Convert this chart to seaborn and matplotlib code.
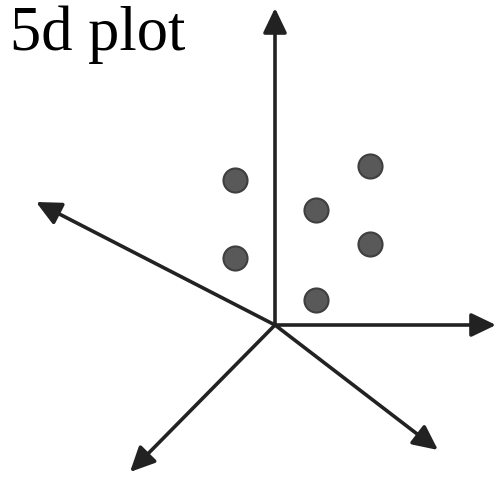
import matplotlib
matplotlib.use("Agg")
import matplotlib.pyplot as plt
import seaborn as sns
import pandas as pd

sns.set_theme(style="white")

# Axis arrow end points (origin at the common centre), pixel-like coords
origin = (275, 325)
axis_end_x = [275, 496, 36, 130, 438]
axis_end_y = [8, 325, 202, 472, 450]

# Data points
point_x = [235, 235, 316, 370, 370, 316]
point_y = [180, 258, 210, 166, 244, 300]

fig = plt.figure(figsize=(4.98, 4.82), dpi=100)
ax = fig.add_axes([0, 0, 1, 1])
ax.set_xlim(0, 498)
ax.set_ylim(482, 0)
ax.axis("off")

for ex, ey in zip(axis_end_x, axis_end_y):
    ax.annotate("", xy=(ex, ey), xytext=origin,
                arrowprops=dict(arrowstyle="-|>,head_length=1.25,head_width=0.6",
                                color="#222222", lw=2.6, shrinkA=0, shrinkB=0))

df = pd.DataFrame({"x": point_x, "y": point_y})
sns.scatterplot(data=df, x="x", y="y", ax=ax, s=300, color="#595959",
                edgecolor="#3f3f3f", linewidth=1.5, zorder=5)
ax.set_xlabel("")
ax.set_ylabel("")

ax.text(10, 50, "5d plot", fontsize=45, family="Liberation Serif",
        color="black", ha="left", va="baseline")

fig.savefig("out.png", dpi=100)
